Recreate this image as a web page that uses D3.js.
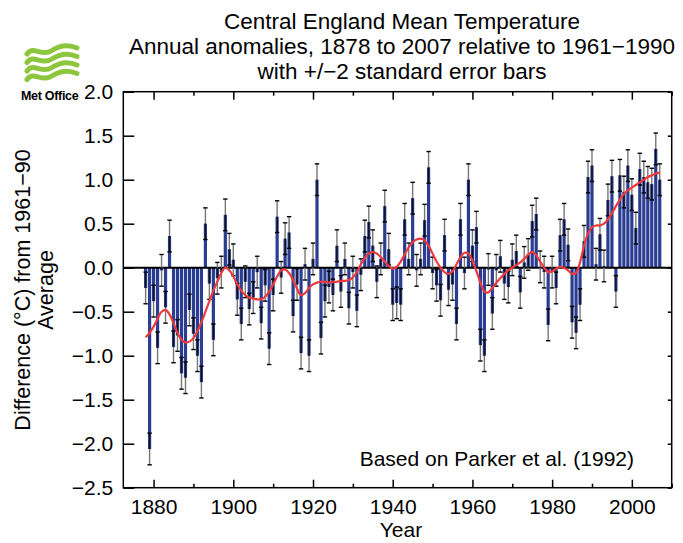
<!DOCTYPE html>
<html><head><meta charset="utf-8">
<script src="https://cdn.jsdelivr.net/npm/d3@7"></script>
<style>
body{margin:0;background:#fff}
svg{display:block}
text{font-family:"Liberation Sans",Arial,Helvetica,sans-serif;fill:#000}
</style>
</head><body><svg id="c" width="683" height="543"></svg>
<script>
// ---------- data ----------
const years = d3.range(1878, 2008);
const anomalies = [
 -0.23,-2.06,-0.38,-0.91,-0.03,-0.45, 0.36,-0.90,-0.77,-1.20, // 1878-1887
 -1.25,-0.48,-0.75,-1.00,-1.30, 0.50,-0.18,-0.82,-0.12,-0.05, // 1888-1897
  0.60, 0.21, 0.09,-0.36,-0.64,-0.16,-0.47,-0.34,-0.05,-0.63, // 1898-1907
 -0.20,-0.92,-0.31, 0.58,-0.11, 0.33, 0.40,-0.55,-0.19,-0.97, // 1908-1917
  0.04,-1.00, 0.10, 1.00,-0.80,-0.38,-0.22,-0.31, 0.25,-0.27, // 1918-1927
  0.10,-0.46,-0.05,-0.49,-0.08, 0.36, 0.52, 0.25,-0.16, 0.10, // 1928-1937
  0.70, 0.21,-0.42,-0.40,-0.42, 0.55, 0.10, 0.79,-0.03, 0.10, // 1938-1947
  0.54, 1.14,-0.06,-0.20,-0.37, 0.37,-0.25,-0.19,-0.64, 0.55, // 1948-1957
 -0.06, 1.00, 0.25, 0.46,-0.88,-1.00,-0.02,-0.52,-0.03, 0.13, // 1958-1967
 -0.18,-0.22, 0.09, 0.19,-0.28, 0.06, 0.15, 0.53, 0.61, 0.01, // 1968-1977
 -0.05,-0.65,-0.05,-0.23, 0.37, 0.55, 0.26,-0.62,-0.74,-0.42, // 1978-1987
  0.30, 1.03, 1.16, 0.04, 0.38, 0.02, 0.77, 1.04,-0.27, 1.05, // 1988-1997
  0.86, 1.16, 0.83, 0.45, 1.12, 1.03, 0.97, 0.95, 1.35, 1.00  // 1998-2007
];
const smoothed = [
 -0.79,-0.74,-0.67,-0.58,-0.50,-0.48,-0.53,-0.63,-0.74,-0.82,
 -0.85,-0.84,-0.80,-0.72,-0.62,-0.50,-0.38,-0.26,-0.16,-0.06,
  0.00,-0.03,-0.10,-0.19,-0.26,-0.31,-0.34,-0.35,-0.36,-0.36,
 -0.33,-0.27,-0.19,-0.10,-0.03,-0.02,-0.06,-0.14,-0.24,-0.31,
 -0.29,-0.23,-0.19,-0.17,-0.16,-0.16,-0.17,-0.16,-0.16,-0.15,
 -0.15,-0.14,-0.11,-0.05, 0.04, 0.11, 0.16, 0.18, 0.16, 0.12,
  0.07, 0.02,-0.01, 0.01, 0.07, 0.15, 0.23, 0.29, 0.32, 0.33,
  0.31, 0.25, 0.16, 0.07, 0.00,-0.05,-0.07,-0.04, 0.04, 0.12,
  0.17, 0.16, 0.08,-0.04,-0.17,-0.27,-0.28,-0.23,-0.17,-0.12,
 -0.07,-0.03, 0.00, 0.03, 0.06, 0.10, 0.15, 0.18, 0.14, 0.07,
  0.00,-0.05,-0.04,-0.01, 0.01, 0.00,-0.03,-0.07,-0.06, 0.06,
  0.25, 0.39, 0.46, 0.48, 0.48, 0.50, 0.55, 0.62, 0.70, 0.77,
  0.84, 0.88, 0.91, 0.94, 0.97, 1.00, 1.03, 1.05, 1.07, 1.08
];
const errorHalfWidth = 0.18;   // +/- 2 standard errors
const yTickValues = [-2.5,-2.0,-1.5,-1.0,-0.5,0.0,0.5,1.0,1.5,2.0];
const xMajorTicks = [1880,1900,1920,1940,1960,1980,2000];
const xMinorTicks = [1890,1910,1930,1950,1970,1990,2010];
const titleLines = ["Central England Mean Temperature",
                    "Annual anomalies, 1878 to 2007 relative to 1961\u22121990",
                    "with +/\u22122 standard error bars"];
const yLabelLines = ["Difference (\u00B0C) from 1961\u221290", "Average"];
const xLabel = "Year";
const note = "Based on Parker et al. (1992)";
const logoText = "Met Office";

// ---------- layout ----------
const L = 123.3, R = 671.7, T = 91.7, B = 487.7;
const svg = d3.select("#c");
const x = d3.scaleLinear().domain([1872.4, 2010]).range([L, R]);
const y = d3.scaleLinear().domain([-2.5, 2.0]).range([B, T]);
const data = years.map((yr, i) => ({yr, v: anomalies[i], s: smoothed[i]}));

// Titles
svg.append("g").selectAll("text").data(titleLines).join("text")
  .attr("x", 402).attr("y", (d, i) => 29 + i * 25)
  .attr("text-anchor", "middle").attr("font-size", 22.5).text(d => d);

// Met Office logo
const logo = svg.append("g").attr("fill", "none").attr("stroke", "#8cc63f")
  .attr("stroke-width", 5).attr("stroke-linecap", "round");
[0, 1, 2, 3].forEach(k => {
  const yy = 51 + k * 8.5;
  logo.append("path").attr("d",
    `M27,${yy+3} C33,${yy-6} 42,${yy+6} 51,${yy} S68,${yy-7} 77,${yy-3}`);
});
svg.append("text").attr("x", 21).attr("y", 100).attr("font-size", 12.5)
  .attr("font-weight", "bold").attr("letter-spacing", -0.3).text(logoText);

// Bars
svg.append("g").selectAll("rect").data(data).join("rect")
  .attr("x", d => x(d.yr) - 1.6).attr("width", 3.2)
  .attr("y", d => Math.min(y(d.v), y(0)))
  .attr("height", d => Math.abs(y(d.v) - y(0)))
  .attr("fill", "#2a3d92");

// Zero line
svg.append("line").attr("x1", L).attr("x2", R).attr("y1", y(0)).attr("y2", y(0))
  .attr("stroke", "#000").attr("stroke-width", 2);

// Error bars
const eb = svg.append("g");
eb.selectAll("line.g").data(data).join("line").attr("class", "g")
  .attr("x1", d => x(d.yr)).attr("x2", d => x(d.yr))
  .attr("y1", d => y(d.v - errorHalfWidth)).attr("y2", d => y(d.v + errorHalfWidth))
  .attr("stroke", "#777").attr("stroke-width", 1.4);
eb.selectAll("line.k").data(data).join("line").attr("class", "k")
  .attr("x1", d => x(d.yr)).attr("x2", d => x(d.yr))
  .attr("y1", d => y(d.v))
  .attr("y2", d => y(d.v - Math.sign(d.v) * Math.min(errorHalfWidth, Math.abs(d.v))))
  .attr("stroke", "#0a0f2a").attr("stroke-width", 1.6);
["lo", "hi"].forEach(side => {
  eb.selectAll("line.c" + side).data(data).join("line").attr("class", "c" + side)
    .attr("x1", d => x(d.yr) - 2.2).attr("x2", d => x(d.yr) + 2.2)
    .attr("y1", d => y(d.v + (side === "hi" ? 1 : -1) * errorHalfWidth))
    .attr("y2", d => y(d.v + (side === "hi" ? 1 : -1) * errorHalfWidth))
    .attr("stroke", "#000").attr("stroke-width", 1.4);
});

// Smoothed curve
svg.append("path").datum(data)
  .attr("d", d3.line().x(d => x(d.yr)).y(d => y(d.s)).curve(d3.curveCatmullRom.alpha(0.5)))
  .attr("fill", "none").attr("stroke", "#ee3a3c").attr("stroke-width", 2.2);

// Frame
svg.append("rect").attr("x", L).attr("y", T).attr("width", R - L).attr("height", B - T)
  .attr("fill", "none").attr("stroke", "#000").attr("stroke-width", 1.5);

// Axes
const fmt = d3.format(".1f");
const yAxis = svg.append("g").attr("transform", `translate(${L},0)`)
  .call(d3.axisLeft(y).tickValues(yTickValues).tickFormat(fmt)
    .tickSizeInner(-11).tickSizeOuter(0).tickPadding(10));
const yAxisR = svg.append("g").attr("transform", `translate(${R},0)`)
  .call(d3.axisRight(y).tickValues(yTickValues).tickFormat("")
    .tickSizeInner(-4).tickSizeOuter(0));
const xAxis = svg.append("g").attr("transform", `translate(0,${B})`)
  .call(d3.axisBottom(x).tickValues(xMajorTicks).tickFormat(d3.format("d"))
    .tickSizeInner(-8).tickSizeOuter(0).tickPadding(11));
const xAxisMinor = svg.append("g").attr("transform", `translate(0,${B})`)
  .call(d3.axisBottom(x).tickValues(xMinorTicks).tickFormat("")
    .tickSizeInner(-4).tickSizeOuter(0));
const xTop = svg.append("g").attr("transform", `translate(0,${T})`)
  .call(d3.axisTop(x).tickValues(xMajorTicks).tickFormat("")
    .tickSizeInner(-8).tickSizeOuter(0));
const xTopMinor = svg.append("g").attr("transform", `translate(0,${T})`)
  .call(d3.axisTop(x).tickValues(xMinorTicks).tickFormat("")
    .tickSizeInner(-4).tickSizeOuter(0));
[yAxis, yAxisR, xAxis, xAxisMinor, xTop, xTopMinor].forEach(g => {
  g.select(".domain").remove();
  g.selectAll(".tick line").attr("stroke", "#000").attr("stroke-width", 1.5);
  g.selectAll("text").attr("font-size", 21)
    .attr("font-family", "'Liberation Sans',Arial,Helvetica,sans-serif").attr("fill", "#000");
  g.attr("font-family", null).attr("font-size", null);
});

// Axis labels
svg.append("text").attr("x", 401).attr("y", 537).attr("text-anchor", "middle")
  .attr("font-size", 21).text(xLabel);
svg.append("g").selectAll("text").data(yLabelLines).join("text")
  .attr("transform", (d, i) => `translate(${30 + i * 23},${290}) rotate(-90)`)
  .attr("text-anchor", "middle").attr("font-size", 21.5).text(d => d);

// Note
svg.append("text").attr("x", 634).attr("y", 466).attr("text-anchor", "end")
  .attr("font-size", 21).text(note);
</script>
</body></html>
